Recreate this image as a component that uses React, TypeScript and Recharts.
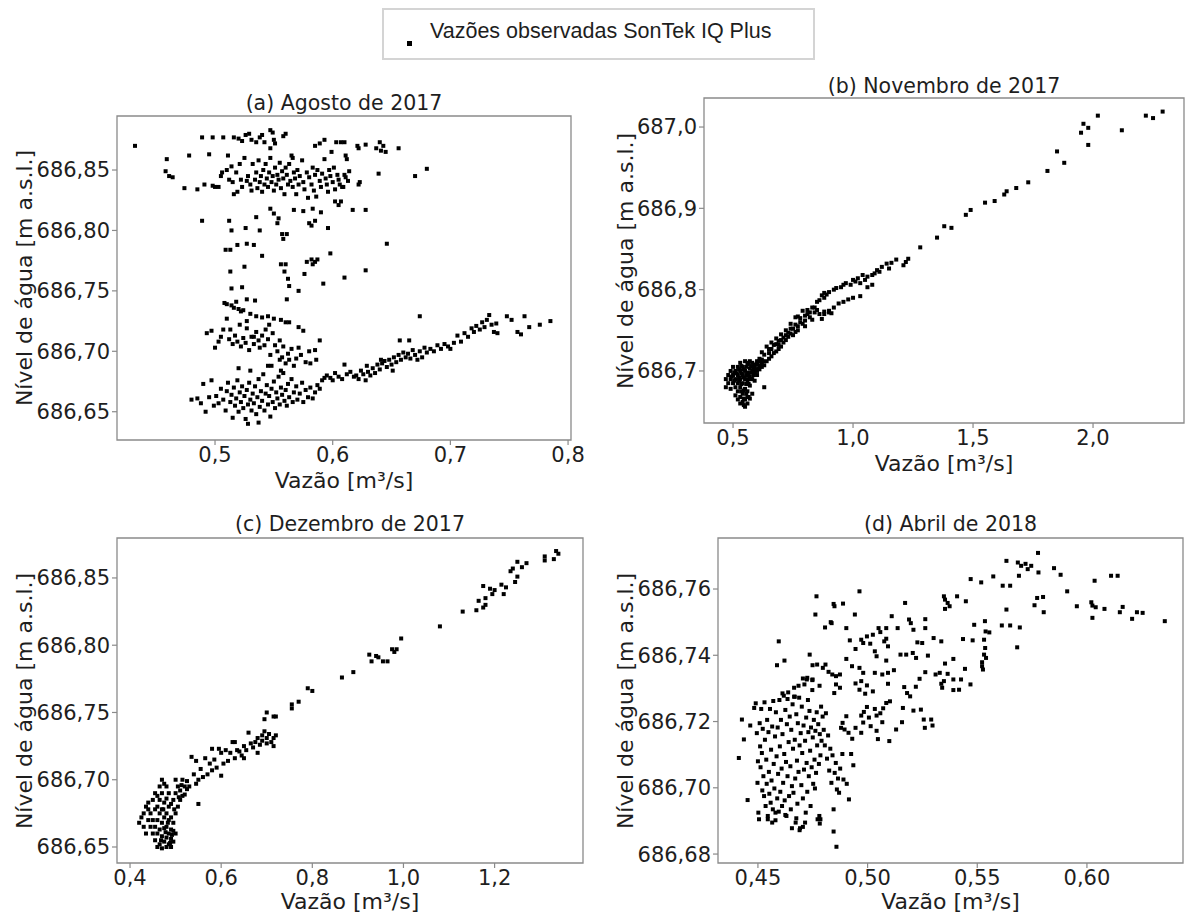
import React from 'react';
import { ScatterChart, Scatter, XAxis, YAxis, ReferenceArea } from 'recharts';

type Pt = [number, number]; // [vazão m³/s, nível m a.s.l.]

// (a) Agosto de 2017
const agosto: Pt[] = [
  [0.432,686.870],[0.489,686.877],[0.498,686.877],[0.507,686.877],[0.516,686.877],[0.520,686.876],[0.523,686.874],[0.526,686.879],[0.529,686.880],[0.531,686.875],[0.535,686.873],[0.538,686.877],[0.540,686.879],[0.542,686.873],[0.547,686.883],[0.549,686.881],[0.550,686.875],[0.551,686.872],[0.547,686.868],[0.558,686.878],[0.560,686.880],[0.566,686.860],[0.585,686.870],[0.589,686.872],[0.593,686.875],[0.603,686.873],[0.607,686.873],[0.610,686.873],[0.599,686.865],[0.611,686.862],[0.621,686.870],[0.622,686.868],[0.628,686.871],[0.637,686.868],[0.640,686.873],[0.641,686.866],[0.643,686.870],[0.645,686.865],[0.656,686.868],
  [0.459,686.859],[0.458,686.849],[0.461,686.845],[0.464,686.844],[0.474,686.835],[0.478,686.862],[0.485,686.834],[0.491,686.838],[0.495,686.863],[0.498,686.837],[0.500,686.836],[0.503,686.836],[0.505,686.845],[0.506,686.848],[0.510,686.850],[0.511,686.862],[0.512,686.842],[0.514,686.853],[0.515,686.840],[0.516,686.830],[0.518,686.848],[0.519,686.832],[0.521,686.855],[0.522,686.842],[0.523,686.836],[0.525,686.860],[0.527,686.841],[0.528,686.845],[0.530,686.838],[0.531,686.833],[0.532,686.855],[0.534,686.842],[0.535,686.848],[0.536,686.835],[0.537,686.858],[0.538,686.840],[0.539,686.845],[0.540,686.832],[0.541,686.850],[0.542,686.838],[0.543,686.855],[0.544,686.843],[0.545,686.836],[0.546,686.848],[0.547,686.860],[0.548,686.840],[0.549,686.845],[0.550,686.833],[0.551,686.852],[0.552,686.838],[0.553,686.846],[0.554,686.842],[0.555,686.856],[0.556,686.835],[0.557,686.849],[0.558,686.843],[0.559,686.830],[0.560,686.852],[0.561,686.846],[0.562,686.838],[0.563,686.855],[0.564,686.841],[0.565,686.862],[0.566,686.836],[0.567,686.848],[0.568,686.843],[0.569,686.830],[0.570,686.850],[0.571,686.838],[0.572,686.845],[0.574,686.858],[0.575,686.840],[0.576,686.834],[0.578,686.848],[0.579,686.827],[0.580,686.844],[0.582,686.838],[0.583,686.852],[0.584,686.833],[0.585,686.846],[0.586,686.828],[0.587,686.850],[0.589,686.841],[0.590,686.836],[0.591,686.847],[0.593,686.859],[0.594,686.843],[0.595,686.838],[0.596,686.832],[0.597,686.850],[0.598,686.845],[0.600,686.840],[0.601,686.852],[0.602,686.834],[0.604,686.846],[0.605,686.842],[0.606,686.838],[0.607,686.824],[0.608,686.836],[0.610,686.846],[0.612,686.859],[0.614,686.849],[0.617,686.817],[0.622,686.838],[0.623,686.840],[0.639,686.847],[0.670,686.845],[0.680,686.851],[0.611,686.844],[0.613,686.841],[0.609,686.836],
  [0.489,686.808],[0.512,686.808],[0.514,686.800],[0.509,686.784],[0.513,686.784],[0.519,686.788],[0.527,686.789],[0.533,686.788],[0.526,686.802],[0.535,686.811],[0.538,686.800],[0.540,686.779],[0.525,686.770],[0.513,686.766],[0.514,686.752],[0.523,686.753],[0.534,686.742],[0.547,686.818],[0.550,686.814],[0.554,686.810],[0.553,686.806],[0.557,686.797],[0.558,686.793],[0.561,686.797],[0.556,686.772],[0.560,686.772],[0.559,686.766],[0.562,686.760],[0.563,686.754],[0.561,686.743],[0.567,686.817],[0.575,686.816],[0.580,686.806],[0.582,686.804],[0.585,686.808],[0.590,686.815],[0.596,686.802],[0.598,686.781],[0.578,686.774],[0.582,686.776],[0.585,686.774],[0.587,686.776],[0.583,686.772],[0.576,686.764],[0.571,686.750],[0.592,686.756],[0.610,686.761],[0.628,686.767],[0.646,686.789],[0.628,686.817],[0.602,686.824],[0.605,686.821],[0.583,686.818],
  [0.508,686.740],[0.510,686.739],[0.514,686.738],[0.516,686.736],[0.518,686.741],[0.520,686.735],[0.522,686.733],[0.524,686.734],[0.527,686.743],[0.530,686.731],[0.535,686.729],[0.540,686.728],[0.545,686.729],[0.550,686.727],[0.556,686.726],[0.560,686.724],[0.563,686.724],[0.571,686.720],[0.575,686.717],[0.493,686.715],[0.497,686.717],[0.505,686.712],[0.507,686.718],[0.510,686.727],[0.512,686.710],[0.513,686.718],[0.515,686.706],[0.517,686.713],[0.519,686.708],[0.521,686.722],[0.522,686.704],[0.524,686.711],[0.526,686.707],[0.527,686.719],[0.529,686.701],[0.531,686.712],[0.533,686.706],[0.535,686.716],[0.537,686.709],[0.538,686.703],[0.540,686.713],[0.542,686.705],[0.543,686.718],[0.545,686.710],[0.547,686.697],[0.549,686.715],[0.551,686.705],[0.553,686.700],[0.555,686.709],[0.557,686.695],[0.558,686.704],[0.560,686.690],[0.562,686.698],[0.563,686.693],[0.565,686.702],[0.567,686.688],[0.569,686.694],[0.571,686.703],[0.573,686.697],[0.577,686.691],[0.580,686.700],[0.581,686.690],[0.585,686.701],[0.589,686.709],[0.586,686.693],[0.548,686.688],[0.556,686.684],[0.500,686.703],[0.503,686.708],[0.527,686.725],[0.533,686.712],[0.546,686.722],
  [0.480,686.660],[0.485,686.661],[0.488,686.657],[0.490,686.673],[0.492,686.650],[0.495,686.662],[0.497,686.676],[0.499,686.655],[0.501,686.663],[0.503,686.657],[0.505,686.669],[0.507,686.660],[0.509,686.651],[0.510,686.667],[0.511,686.674],[0.513,686.658],[0.514,686.664],[0.515,686.645],[0.516,686.670],[0.517,686.655],[0.518,686.661],[0.519,686.676],[0.520,686.650],[0.521,686.666],[0.522,686.658],[0.523,686.671],[0.524,686.653],[0.525,686.663],[0.526,686.644],[0.527,686.668],[0.528,686.656],[0.529,686.674],[0.530,686.660],[0.531,686.651],[0.532,686.665],[0.533,686.657],[0.534,686.671],[0.535,686.648],[0.536,686.662],[0.537,686.677],[0.538,686.654],[0.539,686.667],[0.540,686.659],[0.541,686.681],[0.542,686.651],[0.543,686.665],[0.544,686.672],[0.545,686.656],[0.546,686.663],[0.547,686.646],[0.548,686.669],[0.549,686.658],[0.550,686.675],[0.551,686.653],[0.552,686.666],[0.553,686.661],[0.554,686.679],[0.555,686.656],[0.556,686.670],[0.557,686.664],[0.558,686.682],[0.559,686.659],[0.560,686.668],[0.561,686.655],[0.562,686.673],[0.563,686.662],[0.565,686.677],[0.566,686.658],[0.567,686.666],[0.569,686.671],[0.570,686.660],[0.572,686.665],[0.574,686.674],[0.575,686.658],[0.577,686.668],[0.579,686.662],[0.581,686.670],[0.583,686.661],[0.585,686.666],[0.587,686.672],[0.589,686.669],[0.591,686.676],[0.593,686.678],[0.528,686.640],[0.537,686.641],[0.530,686.684],[0.545,686.688],[0.520,686.686],[0.555,686.693],
  [0.595,686.680],[0.598,686.678],[0.600,686.676],[0.602,686.682],[0.605,686.679],[0.608,686.677],[0.610,686.689],[0.612,686.681],[0.615,686.683],[0.618,686.679],[0.620,686.680],[0.622,686.677],[0.624,686.684],[0.626,686.681],[0.628,686.676],[0.629,686.688],[0.630,686.683],[0.632,686.680],[0.634,686.686],[0.636,686.682],[0.638,686.689],[0.640,686.685],[0.642,686.690],[0.644,686.692],[0.646,686.687],[0.648,686.693],[0.650,686.689],[0.651,686.684],[0.652,686.695],[0.654,686.691],[0.656,686.697],[0.658,686.693],[0.660,686.699],[0.662,686.695],[0.664,686.698],[0.666,686.694],[0.668,686.701],[0.670,686.697],[0.672,686.693],[0.674,686.700],[0.676,686.695],[0.678,686.703],[0.680,686.699],[0.683,686.702],[0.686,686.700],[0.689,686.705],[0.692,686.702],[0.695,686.706],[0.698,686.704],[0.700,686.702],[0.703,686.707],[0.706,686.713],[0.709,686.708],[0.712,686.715],[0.715,686.712],[0.718,686.719],[0.720,686.716],[0.722,686.721],[0.725,686.718],[0.727,686.724],[0.729,686.720],[0.731,686.726],[0.733,686.730],[0.735,686.722],[0.737,686.716],[0.739,686.723],[0.740,686.715],[0.748,686.729],[0.752,686.726],[0.757,686.716],[0.760,686.714],[0.763,686.729],[0.767,686.720],[0.776,686.722],[0.785,686.725],[0.674,686.729],[0.657,686.709],[0.665,686.709],[0.641,686.693],
];

// (b) Novembro de 2017
const novembro: Pt[] = [
  [2.29,687.019],[2.25,687.011],[2.22,687.014],[2.12,686.996],[2.02,687.014],[1.98,686.978],[1.98,686.999],[1.96,687.004],[1.95,686.993],[1.88,686.956],[1.85,686.970],[1.81,686.946],[1.73,686.932],[1.68,686.925],[1.64,686.921],[1.63,686.917],[1.59,686.909],[1.55,686.907],[1.49,686.898],[1.47,686.892],[1.41,686.876],[1.38,686.878],[1.35,686.864],[1.28,686.852],
  [1.23,686.838],[1.22,686.834],[1.21,686.830],[1.18,686.837],[1.16,686.833],[1.15,686.826],[1.14,686.832],[1.12,686.828],[1.11,686.822],[1.10,686.824],[1.09,686.820],[1.08,686.818],[1.06,686.816],[1.05,686.812],[1.04,686.818],[1.03,686.808],[1.02,686.814],[1.01,686.810],[1.00,686.812],[0.99,686.806],[0.97,686.808],[0.96,686.806],[0.95,686.803],[0.93,686.802],[0.92,686.800],[0.90,686.797],[0.89,686.794],[0.88,686.796],[0.87,686.793],[1.08,686.806],[1.06,686.803],[1.03,686.792],[1.00,686.790],[0.98,686.788],[0.96,686.785],[0.94,686.783],[0.92,686.778],[0.90,686.774],[0.88,686.770],
  [0.86,686.787],[0.85,686.775],[0.84,686.772],[0.83,686.778],[0.82,686.766],[0.81,686.770],[0.80,686.762],[0.79,686.774],[0.78,686.760],[0.77,686.755],[0.76,686.766],[0.75,686.752],[0.74,686.758],[0.73,686.747],[0.72,686.750],[0.71,686.741],[0.70,686.745],[0.69,686.737],[0.68,686.740],[0.67,686.732],[0.66,686.735],[0.65,686.727],[0.64,686.730],[0.63,686.720],[0.62,686.723],[0.61,686.715],[0.60,686.712],[0.59,686.708],
  [0.86,686.770],[0.88,686.773],[0.90,686.772],[0.91,686.771],[0.87,686.764],[0.83,686.763],[0.80,686.755],[0.79,686.758],[0.77,686.750],[0.75,686.744],[0.74,686.746],[0.72,686.738],[0.71,686.735],[0.70,686.730],[0.69,686.727],[0.68,686.724],[0.67,686.722],[0.66,686.718],[0.65,686.715],[0.64,686.712],[0.63,686.707],[0.62,686.705],[0.61,686.702],[0.60,686.700],[0.62,686.714],[0.65,686.722],[0.68,686.733],[0.70,686.738],[0.72,686.744],[0.74,686.752],[0.76,686.757],[0.78,686.765],[0.80,686.768],[0.82,686.772],[0.84,686.778],[0.63,686.680],[0.77,686.767],[0.81,686.775],[0.85,686.785],[0.88,686.790],[0.73,686.742],[0.69,686.732],[0.66,686.727],[0.76,686.748],
  [0.47,686.680],[0.47,686.690],[0.48,686.695],[0.48,686.685],[0.49,686.700],[0.49,686.690],[0.49,686.678],[0.50,686.695],[0.50,686.705],[0.50,686.685],[0.51,686.700],[0.51,686.690],[0.51,686.680],[0.51,686.670],[0.52,686.705],[0.52,686.695],[0.52,686.685],[0.52,686.675],[0.52,686.665],[0.53,686.710],[0.53,686.700],[0.53,686.690],[0.53,686.680],[0.53,686.668],[0.53,686.660],[0.54,686.705],[0.54,686.695],[0.54,686.685],[0.54,686.672],[0.54,686.662],[0.55,686.712],[0.55,686.700],[0.55,686.690],[0.55,686.678],[0.55,686.665],[0.55,686.656],[0.56,686.708],[0.56,686.698],[0.56,686.688],[0.56,686.675],[0.56,686.660],[0.57,686.712],[0.57,686.703],[0.57,686.693],[0.57,686.682],[0.57,686.666],[0.58,686.710],[0.58,686.700],[0.58,686.690],[0.58,686.672],[0.59,686.705],[0.59,686.698],[0.59,686.688],[0.60,686.708],[0.60,686.695],[0.61,686.705],[0.61,686.712],[0.62,686.710],[0.515,686.697],[0.525,686.692],[0.535,686.697],[0.545,686.702],[0.565,686.696],[0.575,686.698],[0.585,686.703],[0.505,686.688],[0.545,686.676],[0.555,686.684],[0.565,686.684],[0.56,686.668],[0.545,686.658],[0.535,686.675],[0.495,686.693],[0.505,686.698],[0.525,686.702],[0.535,686.706],[0.555,686.705],[0.565,686.710],[0.575,686.706],[0.525,686.688],[0.545,686.692],[0.555,686.695],[0.535,686.684],[0.565,686.690],[0.545,686.666],[0.555,686.672],[0.565,686.668],[0.575,686.690],[0.585,686.695],[0.595,686.702],[0.605,686.703],[0.615,686.707],[0.625,686.712],
];

// (c) Dezembro de 2017
const dezembro: Pt[] = [
  [1.34,686.868],[1.335,686.870],[1.33,686.864],[1.31,686.866],[1.31,686.863],[1.27,686.861],[1.26,686.858],[1.25,686.862],[1.25,686.851],[1.245,686.847],[1.24,686.857],[1.235,686.855],[1.225,686.843],[1.22,686.838],[1.215,686.845],[1.20,686.841],[1.195,686.838],[1.19,686.842],[1.18,686.835],[1.18,686.830],[1.175,686.844],[1.175,686.828],[1.165,686.833],[1.16,686.826],[1.13,686.825],[1.08,686.814],[0.995,686.805],[0.985,686.797],[0.98,686.795],[0.975,686.797],[0.965,686.788],[0.955,686.788],[0.945,686.791],[0.94,686.792],[0.93,686.788],[0.925,686.793],[0.89,686.780],[0.865,686.776],[0.80,686.766],[0.79,686.768],[0.77,686.758],[0.755,686.756],[0.755,686.753],[0.72,686.747],[0.715,686.747],[0.70,686.750],[0.695,686.745],
  [0.72,686.733],[0.715,686.731],[0.71,686.728],[0.705,686.734],[0.70,686.731],[0.695,686.736],[0.69,686.733],[0.69,686.729],[0.685,686.726],[0.68,686.731],[0.675,686.728],[0.67,686.724],[0.665,686.727],[0.66,686.735],[0.655,686.722],[0.65,686.725],[0.645,686.718],[0.64,686.721],[0.635,686.722],[0.63,686.716],[0.625,686.728],[0.62,686.720],[0.615,686.714],[0.61,686.722],[0.605,686.712],[0.60,686.720],[0.595,686.723],[0.59,686.709],[0.585,686.715],[0.58,686.707],[0.575,686.712],[0.57,686.704],[0.565,686.716],[0.56,686.702],[0.555,686.708],[0.55,686.700],[0.545,686.697],[0.54,686.704],[0.535,686.717],[0.53,686.695],[0.525,686.693],[0.52,686.689],[0.515,686.700],[0.545,686.714],[0.55,686.682],[0.58,686.723],[0.60,686.703],[0.63,686.728],[0.65,686.716],[0.68,686.720],[0.70,686.727],[0.715,686.725],
  [0.42,686.668],[0.425,686.672],[0.43,686.665],[0.43,686.675],[0.435,686.660],[0.435,686.680],[0.44,686.670],[0.44,686.678],[0.445,686.665],[0.445,686.675],[0.45,686.660],[0.45,686.670],[0.45,686.685],[0.455,686.655],[0.455,686.665],[0.455,686.678],[0.46,686.650],[0.46,686.660],[0.46,686.670],[0.46,686.680],[0.46,686.688],[0.465,686.652],[0.465,686.663],[0.465,686.675],[0.465,686.685],[0.47,686.649],[0.47,686.658],[0.47,686.668],[0.47,686.678],[0.47,686.690],[0.475,686.654],[0.475,686.664],[0.475,686.672],[0.475,686.683],[0.48,686.650],[0.48,686.657],[0.48,686.665],[0.48,686.675],[0.48,686.686],[0.48,686.695],[0.485,686.652],[0.485,686.660],[0.485,686.670],[0.485,686.680],[0.485,686.690],[0.49,686.650],[0.49,686.656],[0.49,686.663],[0.49,686.672],[0.49,686.682],[0.495,686.654],[0.495,686.662],[0.495,686.668],[0.495,686.685],[0.50,686.660],[0.50,686.675],[0.50,686.690],[0.505,686.680],[0.505,686.695],[0.51,686.685],[0.51,686.692],[0.515,686.688],[0.52,686.695],[0.50,686.700],[0.475,686.697],[0.455,686.690],[0.465,686.695],[0.44,686.683],[0.47,686.700],[0.488,686.653],[0.478,686.661],[0.468,686.655],[0.492,686.659],[0.483,686.668],[0.473,686.678],[0.497,686.678],[0.507,686.687],[0.513,686.696],[0.525,686.699],
];

// (d) Abril de 2018
const abril: Pt[] = [
  [0.5777,686.7709],[0.5633,686.7685],[0.5685,686.768],[0.570,686.767],[0.572,686.7676],[0.573,686.766],[0.5746,686.767],[0.569,686.764],[0.5779,686.765],[0.585,686.7663],[0.588,686.7643],[0.547,686.763],[0.5518,686.762],[0.5573,686.7638],[0.5616,686.761],[0.565,686.761],[0.6035,686.7625],[0.611,686.764],[0.614,686.764],[0.591,686.7593],[0.5954,686.7548],[0.602,686.756],[0.6025,686.755],[0.604,686.7545],[0.608,686.754],[0.6025,686.7513],[0.6163,686.7546],[0.615,686.753],[0.6206,686.751],[0.6228,686.753],[0.6254,686.7528],[0.6355,686.7503],[0.5773,686.7573],[0.58,686.7576],[0.5761,686.7551],[0.5803,686.753],[0.5633,686.7538],[0.5612,686.749],[0.565,686.749],[0.5694,686.7484],[0.5682,686.7424],
  [0.5348,686.7578],[0.5353,686.7568],[0.5365,686.7558],[0.5374,686.7548],[0.5408,686.7578],[0.5448,686.7563],[0.5353,686.754],[0.5486,686.7492],[0.5535,686.7503],[0.5538,686.7472],[0.5555,686.7469],[0.5435,686.7449],[0.5479,686.7445],[0.5531,686.7447],[0.5536,686.7422],[0.5531,686.7402],[0.554,686.7392],[0.5522,686.7379],[0.5526,686.7357],[0.5522,686.7367],[0.5444,686.7359],[0.5391,686.7389],[0.5353,686.7375],[0.5365,686.7344],[0.5391,686.7327],[0.5426,686.7327],[0.5417,686.7296],[0.5391,686.7295],[0.5469,686.7312],[0.5336,686.7314],[0.534,686.7302],[0.5348,686.7322],[0.531,686.7342],[0.5329,686.7347],[0.5275,686.7399],[0.5301,686.7452],[0.5336,686.7442],[0.5263,686.7482],[0.5263,686.7509],[0.5227,686.7439],[0.5249,686.7437],[0.5209,686.7477],[0.5189,686.7508],[0.5206,686.7407],[0.5221,686.7392],[0.5176,686.7402],[0.515,686.7402],[0.5263,686.7349],[0.5237,686.7329],[0.522,686.7305],[0.518,686.7286],[0.5167,686.7304],[0.5194,686.7276],[0.5243,686.7236],[0.5256,686.7206],[0.529,686.7206],[0.5296,686.7188],[0.5261,686.7181],[0.5209,686.7233],[0.5161,686.7241],[0.5157,686.7198],[0.513,686.7176],
  [0.5171,686.7558],[0.5197,686.7497],[0.5137,686.7482],[0.511,686.7518],[0.5085,686.7482],[0.505,686.7482],[0.5058,686.747],[0.5024,686.7462],[0.4997,686.7457],[0.4971,686.7447],[0.498,686.7437],[0.4945,686.7419],[0.4919,686.7445],[0.5076,686.7442],[0.5085,686.745],[0.5093,686.7427],[0.5012,686.7435],[0.5033,686.7412],[0.5041,686.7397],[0.5085,686.7384],[0.512,686.7355],[0.5093,686.7347],[0.5067,686.7342],[0.5033,686.7347],[0.498,686.7347],[0.4963,686.7362],[0.4929,686.7367],[0.4903,686.7389],[0.4971,686.7322],[0.4997,686.7309],[0.4945,686.7315],[0.4963,686.7296],[0.4989,686.7284],[0.5024,686.7291],[0.5093,686.7314],[0.5102,686.7261],[0.5085,686.7256],[0.5071,686.724],[0.5058,686.7225],[0.5033,686.7238],[0.5041,686.7218],[0.4997,686.7244],[0.4983,686.7229],[0.4971,686.7218],[0.498,686.7197],[0.5006,686.7212],[0.5014,686.7186],[0.4971,686.7166],[0.5041,686.7172],[0.5047,686.7147],[0.5099,686.7141],[0.5067,686.7198],[0.4945,686.7181],[0.4903,686.7216],[0.4886,686.7196],[0.4879,686.7181],[0.4913,686.7166],[0.493,686.7148],[0.4895,686.7176],
  [0.4963,686.7593],[0.4942,686.7523],[0.4903,686.7482],[0.4836,686.7497],[0.4845,686.7555],[0.4849,686.7548],[0.4888,686.7556],[0.4767,686.7578],[0.4762,686.7523],[0.4806,686.7484],[0.4832,686.75],[0.4736,686.7402],[0.4749,686.737],[0.477,686.7372],[0.4796,686.7362],[0.4808,686.7372],[0.4822,686.735],[0.4839,686.7342],[0.4856,686.7337],[0.4874,686.7342],[0.4856,686.7312],[0.4874,686.7302],[0.4848,686.7286],[0.4781,686.7308],[0.4749,686.7327],[0.4723,686.7327],[0.4595,686.7442],[0.4621,686.7384],[0.4587,686.737],
  [0.4413,686.709],[0.4427,686.7206],[0.4436,686.7146],[0.4453,686.6963],[0.4465,686.7188],[0.4483,686.7241],[0.449,686.7255],[0.4495,686.7165],[0.4498,686.7015],[0.45,686.708],[0.4502,686.6925],[0.4505,686.6905],[0.4508,686.7195],[0.451,686.7125],[0.4512,686.7062],[0.4515,686.7238],[0.4518,686.7105],[0.452,686.6992],[0.4522,686.7178],[0.4525,686.7035],[0.4528,686.6975],[0.453,686.7258],[0.4532,686.7145],[0.4535,686.6945],[0.4538,686.7085],[0.454,686.7012],[0.4542,686.7205],[0.4545,686.6915],[0.4548,686.7168],[0.455,686.7048],[0.4552,686.6982],[0.4555,686.7238],[0.4558,686.6955],[0.456,686.7115],[0.4562,686.7022],[0.4565,686.7185],[0.4568,686.6935],[0.457,686.7262],[0.4572,686.7072],[0.4575,686.6998],[0.4578,686.7155],[0.458,686.6902],[0.4582,686.7228],[0.4585,686.7095],[0.4588,686.6968],[0.459,686.7182],[0.4592,686.7042],[0.4595,686.6928],[0.4598,686.7265],[0.46,686.7125],[0.4602,686.6988],[0.4605,686.7205],[0.4608,686.7058],[0.461,686.6945],[0.4612,686.7162],[0.4615,686.7015],[0.4618,686.7278],[0.462,686.7102],[0.4622,686.6962],[0.4625,686.7235],[0.4628,686.7078],[0.463,686.6915],[0.4632,686.7192],[0.4635,686.7035],[0.4638,686.7288],[0.464,686.7138],[0.4642,686.6975],[0.4645,686.7215],[0.4648,686.7065],[0.465,686.6935],[0.4652,686.7175],[0.4655,686.7005],[0.4658,686.7252],[0.466,686.7118],[0.4662,686.6985],[0.4665,686.7302],[0.4668,686.7145],[0.467,686.7028],[0.4672,686.6895],[0.4675,686.7222],[0.4678,686.7082],[0.468,686.6952],[0.4682,686.7195],[0.4685,686.7048],[0.4688,686.7272],[0.469,686.7128],[0.4692,686.6878],[0.4695,686.7165],[0.4698,686.7008],[0.47,686.7245],[0.4702,686.7105],[0.4705,686.6968],[0.4708,686.7188],[0.471,686.7055],[0.4712,686.7312],[0.4715,686.7142],[0.4718,686.6925],[0.472,686.7212],[0.4722,686.7075],[0.4725,686.6988],[0.4728,686.7265],[0.473,686.7168],[0.4732,686.7035],[0.4735,686.7232],[0.4738,686.7112],[0.474,686.6945],[0.4742,686.7182],[0.4745,686.7062],[0.4748,686.7295],[0.475,686.7152],[0.4752,686.7012],[0.4755,686.7205],[0.4758,686.7085],[0.476,686.6998],[0.4762,686.7172],[0.4765,686.7045],[0.4768,686.7228],[0.477,686.7128],[0.4772,686.6905],[0.4775,686.7192],[0.4778,686.7072],[0.478,686.6915],[0.4782,686.7162],[0.4785,686.7098],[0.4788,686.7245],[0.479,686.7142],[0.4795,686.7215],[0.48,686.7175],[0.4805,686.7128],[0.481,686.7225],[0.4815,686.7088],[0.482,686.7158],[0.4825,686.7052],[0.483,686.7118],[0.4835,686.7015],[0.484,686.7098],[0.4845,686.6935],[0.485,686.7045],[0.4855,686.7075],[0.486,686.6995],[0.4865,686.7028],[0.487,686.6985],[0.4875,686.7058],[0.4885,686.7102],[0.489,686.7025],[0.4905,686.7012],[0.4915,686.6965],[0.4925,686.7102],[0.4935,686.7068],[0.4845,686.6868],[0.4858,686.6822],[0.4785,686.6905],[0.4782,686.6892],[0.4705,686.6882],[0.4715,686.6895],[0.469,686.6872],[0.4655,686.6878],[0.4545,686.6905],[0.4565,686.6895],[0.458,686.6925],[0.4625,686.6918],[0.4675,686.6908],
  [0.4685,686.7308],[0.4725,686.7332],[0.4705,686.733],[0.4748,686.7325],[0.4668,686.7275],[0.4612,686.7285],[0.4635,686.7268],[0.4665,686.7275],
];

// Axis ticks per panel
const ticksAgostoX = [0.5, 0.6, 0.7, 0.8];
const ticksAgostoY = [686.65, 686.7, 686.75, 686.8, 686.85];
const ticksNovembroX = [0.5, 1.0, 1.5, 2.0];
const ticksNovembroY = [686.7, 686.8, 686.9, 687.0];
const ticksDezembroX = [0.4, 0.6, 0.8, 1.0, 1.2];
const ticksDezembroY = [686.65, 686.7, 686.75, 686.8, 686.85];
const ticksAbrilX = [0.45, 0.5, 0.55, 0.6];
const ticksAbrilY = [686.68, 686.7, 686.72, 686.74, 686.76];

const titles = ['(a) Agosto de 2017', '(b) Novembro de 2017', '(c) Dezembro de 2017', '(d) Abril de 2018'];
const xLabel = 'Vazão [m³/s]';
const yLabel = 'Nível de água [m a.s.l.]';
const legendLabel = 'Vazões observadas SonTek IQ Plus';

const FONT = '"DejaVu Sans", sans-serif';
const FRAME = '#8a8a8a';
const TEXT = '#1e1e1e';

const fmt = (d: number) => (v: number) => v.toFixed(d).replace('.', ',');

const SquareDot = (props: any) => {
  const { cx, cy } = props;
  if (cx == null || cy == null) return null;
  return <rect x={cx - 2} y={cy - 2} width={4} height={4} fill="#000" />;
};

type PanelProps = {
  data: Pt[];
  title: string;
  // plot-area box in page pixels
  box: { left: number; top: number; right: number; bottom: number };
  xDomain: [number, number];
  yDomain: [number, number];
  xTicks: number[];
  yTicks: number[];
  xDec: number;
  yDec: number;
  titleY: number;
  xLabelY: number;
  yLabelX: number;
};

const YW = 100;
const XH = 40;
const PAD_T = 10;
const PAD_R = 30;

function Panel(p: PanelProps) {
  const w = p.box.right - p.box.left;
  const h = p.box.bottom - p.box.top;
  const rows = p.data.map(([q, n]) => ({ q, n }));
  const cx = (p.box.left + p.box.right) / 2;
  const cy = (p.box.top + p.box.bottom) / 2;
  return (
    <>
      <div style={{ position: 'absolute', left: p.box.left - YW, top: p.box.top - PAD_T }}>
        <ScatterChart
          width={w + YW + PAD_R}
          height={h + PAD_T + XH}
          margin={{ top: PAD_T, right: PAD_R, bottom: 0, left: 0 }}
        >
          <XAxis
            type="number"
            dataKey="q"
            domain={p.xDomain}
            allowDataOverflow
            ticks={p.xTicks}
            tickFormatter={fmt(p.xDec)}
            height={XH}
            axisLine={false}
            tickLine={{ stroke: FRAME, strokeWidth: 1.2 }}
            tickSize={5}
            tickMargin={2}
            interval={0}
            tick={{ fontSize: 21, fill: TEXT, fontFamily: FONT }}
          />
          <YAxis
            type="number"
            dataKey="n"
            domain={p.yDomain}
            allowDataOverflow
            ticks={p.yTicks}
            tickFormatter={fmt(p.yDec)}
            width={YW}
            axisLine={false}
            tickLine={{ stroke: FRAME, strokeWidth: 1.2 }}
            tickSize={5}
            tickMargin={2}
            interval={0}
            tick={{ fontSize: 21, fill: TEXT, fontFamily: FONT }}
          />
          <ReferenceArea
            x1={p.xDomain[0]}
            x2={p.xDomain[1]}
            y1={p.yDomain[0]}
            y2={p.yDomain[1]}
            fill="none"
            stroke={FRAME}
            strokeWidth={1.3}
            fillOpacity={0}
          />
          <Scatter data={rows} shape={SquareDot} isAnimationActive={false} />
        </ScatterChart>
      </div>
      <div style={{ position: 'absolute', left: cx, top: p.titleY, transform: 'translate(-50%, -50%)', fontSize: 20.5, color: TEXT, whiteSpace: 'nowrap' }}>
        {p.title}
      </div>
      <div style={{ position: 'absolute', left: cx, top: p.xLabelY, transform: 'translate(-50%, -50%)', fontSize: 22, color: TEXT, whiteSpace: 'nowrap', lineHeight: 1 }}>
        {xLabel}
      </div>
      <div style={{ position: 'absolute', left: p.yLabelX, top: cy, transform: 'translate(-50%, -50%) rotate(-90deg)', fontSize: 22, color: TEXT, whiteSpace: 'nowrap', lineHeight: 1 }}>
        {yLabel}
      </div>
    </>
  );
}

export default function App() {
  return (
    <div style={{ position: 'absolute', left: 0, top: 0, width: 1192, height: 914, background: '#fff', fontFamily: FONT, overflow: 'hidden' }}>
      {/* legend */}
      <div style={{ position: 'absolute', left: 382, top: 8, width: 429, height: 48, border: '2px solid #d4d4d4', background: '#fff' }}>
        <div style={{ position: 'absolute', left: 23, top: 31, width: 5, height: 5, background: '#000' }} />
        <div style={{ position: 'absolute', left: 46, top: 9, fontFamily: '"Liberation Sans", Arial, sans-serif', fontSize: 21.5, color: TEXT, whiteSpace: 'nowrap' }}>
          {legendLabel}
        </div>
      </div>

      <Panel data={agosto} title={titles[0]} box={{ left: 117, top: 116, right: 571, bottom: 440 }}
        xDomain={[0.4167, 0.8025]} yDomain={[686.6266, 686.8947]} xTicks={ticksAgostoX} yTicks={ticksAgostoY}
        xDec={1} yDec={2} titleY={103} xLabelY={481} yLabelX={25} />
      <Panel data={novembro} title={titles[1]} box={{ left: 704, top: 98, right: 1184, bottom: 423 }}
        xDomain={[0.379, 2.379]} yDomain={[686.636, 687.0357]} xTicks={ticksNovembroX} yTicks={ticksNovembroY}
        xDec={1} yDec={1} titleY={86} xLabelY={464} yLabelX={626} />
      <Panel data={dezembro} title={titles[2]} box={{ left: 117, top: 538, right: 583, bottom: 863 }}
        xDomain={[0.3714, 1.394]} yDomain={[686.6381, 686.8797]} xTicks={ticksDezembroX} yTicks={ticksDezembroY}
        xDec={1} yDec={2} titleY={524} xLabelY={902} yLabelX={25} />
      <Panel data={abril} title={titles[3]} box={{ left: 718, top: 538, right: 1183, bottom: 863 }}
        xDomain={[0.4318, 0.6438]} yDomain={[686.6773, 686.7754]} xTicks={ticksAbrilX} yTicks={ticksAbrilY}
        xDec={2} yDec={2} titleY={524} xLabelY={902} yLabelX={626} />
    </div>
  );
}
